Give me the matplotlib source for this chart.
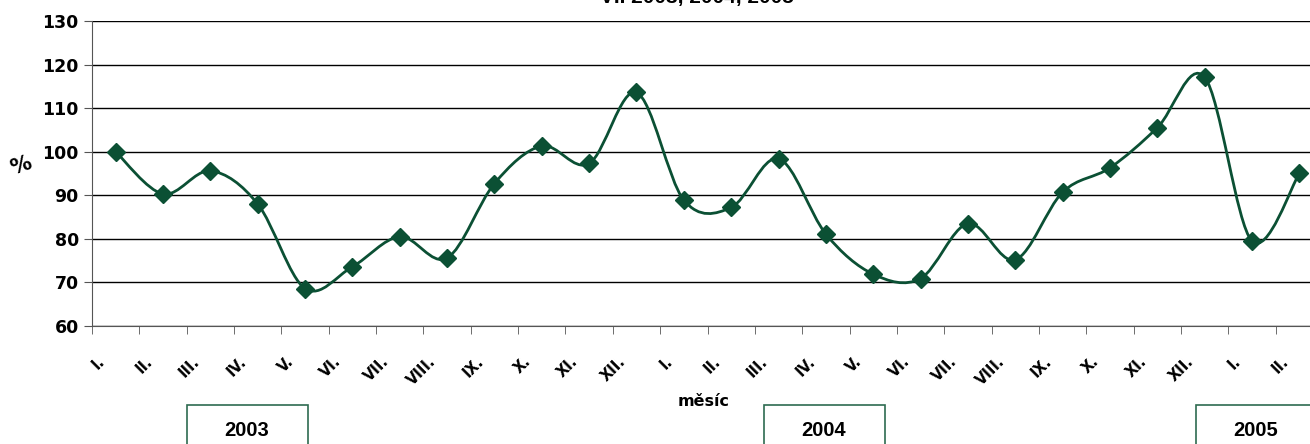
import numpy as np
import matplotlib
matplotlib.use("Agg")
import matplotlib.pyplot as plt
from matplotlib.path import Path
from matplotlib.patches import PathPatch, Rectangle
import matplotlib.transforms as mtransforms

months = ["I.", "II.", "III.", "IV.", "V.", "VI.", "VII.", "VIII.", "IX.", "X.", "XI.", "XII.",
          "I.", "II.", "III.", "IV.", "V.", "VI.", "VII.", "VIII.", "IX.", "X.", "XI.", "XII.",
          "I.", "II."]
values = [100.0, 90.3, 95.6, 88.0, 68.6, 73.6, 80.5, 75.6, 92.7, 101.3, 97.3, 113.6,
          88.9, 87.2, 98.4, 81.1, 71.9, 70.9, 83.5, 75.2, 90.7, 96.3, 105.5, 117.1,
          79.5, 95.0]
years = ["2003", "2004", "2005"]

green = "#0b5034"
W, H = 1310, 444
fig = plt.figure(figsize=(W / 100, H / 100), dpi=100)
ax = fig.add_axes([92 / W, 1 - 326 / H, 1231 / W, 305 / H])

x = np.arange(len(values))
y = np.array(values)

# smoothed line like the spreadsheet one (bezier through the points)
verts = [(x[0], y[0])]
codes = [Path.MOVETO]
n = len(x)
for i in range(n - 1):
    p0 = np.array([x[max(i - 1, 0)], y[max(i - 1, 0)]])
    p1 = np.array([x[i], y[i]])
    p2 = np.array([x[i + 1], y[i + 1]])
    p3 = np.array([x[min(i + 2, n - 1)], y[min(i + 2, n - 1)]])
    c1 = p1 + (p2 - p0) / 6
    c2 = p2 - (p3 - p1) / 6
    verts += [tuple(c1), tuple(c2), tuple(p2)]
    codes += [Path.CURVE4] * 3
ax.add_patch(PathPatch(Path(verts, codes), facecolor="none", edgecolor=green, lw=2, zorder=3))
ax.plot(x, y, ls="none", marker="D", ms=9.5, color=green, zorder=4)

ax.set_xlim(-0.5, n - 0.5)
ax.set_ylim(60, 130)
ax.set_yticks(np.arange(60, 131, 10))
ax.grid(axis="y", color="black", lw=1)
ax.set_axisbelow(True)
for s in ["top", "right"]:
    ax.spines[s].set_visible(False)
for s in ["left", "bottom"]:
    ax.spines[s].set_color("#555555")

ax.set_xticks(x)
ax.set_xticklabels(months, rotation=45, ha="right", va="top", fontsize=10.5, fontweight="bold")
ax.set_xticks(np.arange(-0.5, n, 1), minor=True)
ax.tick_params(axis="x", which="major", length=0, pad=20)
ax.tick_params(axis="x", which="minor", length=6, color="#555555")
ax.tick_params(axis="y", length=6, color="#555555", labelsize=12.5)
for lab in ax.get_yticklabels():
    lab.set_fontweight("bold")
off = mtransforms.ScaledTranslation(-8 / 100, 0, fig.dpi_scale_trans)
for lab in ax.get_xticklabels():
    lab.set_transform(lab.get_transform() + off)

fig.text(21 / W, 1 - 166 / H, "%", fontsize=15, fontweight="bold", rotation=20, ha="center", va="center")
fig.text(704 / W, 1 - 401 / H, "měsíc", fontsize=11.5, fontweight="bold", ha="center", va="center")
fig.text(697 / W, 1 + 2 / H, "VI. 2003, 2004, 2005", fontsize=15, fontweight="bold",
         family="Liberation Sans", ha="center", va="center")

box_left = [187, 764, 1196]
for bx, yr in zip(box_left, years):
    fig.patches.append(Rectangle((bx / W, 1 - 470 / H), 121 / W, 65 / H, transform=fig.transFigure,
                                 facecolor="white", edgecolor="#2e6b50", lw=1.2))
    fig.text((bx + 60) / W, 1 - 430 / H, yr, fontsize=14.5, fontweight="bold",
             family="Liberation Sans", ha="center", va="center")

fig.savefig("out.png", dpi=100)
